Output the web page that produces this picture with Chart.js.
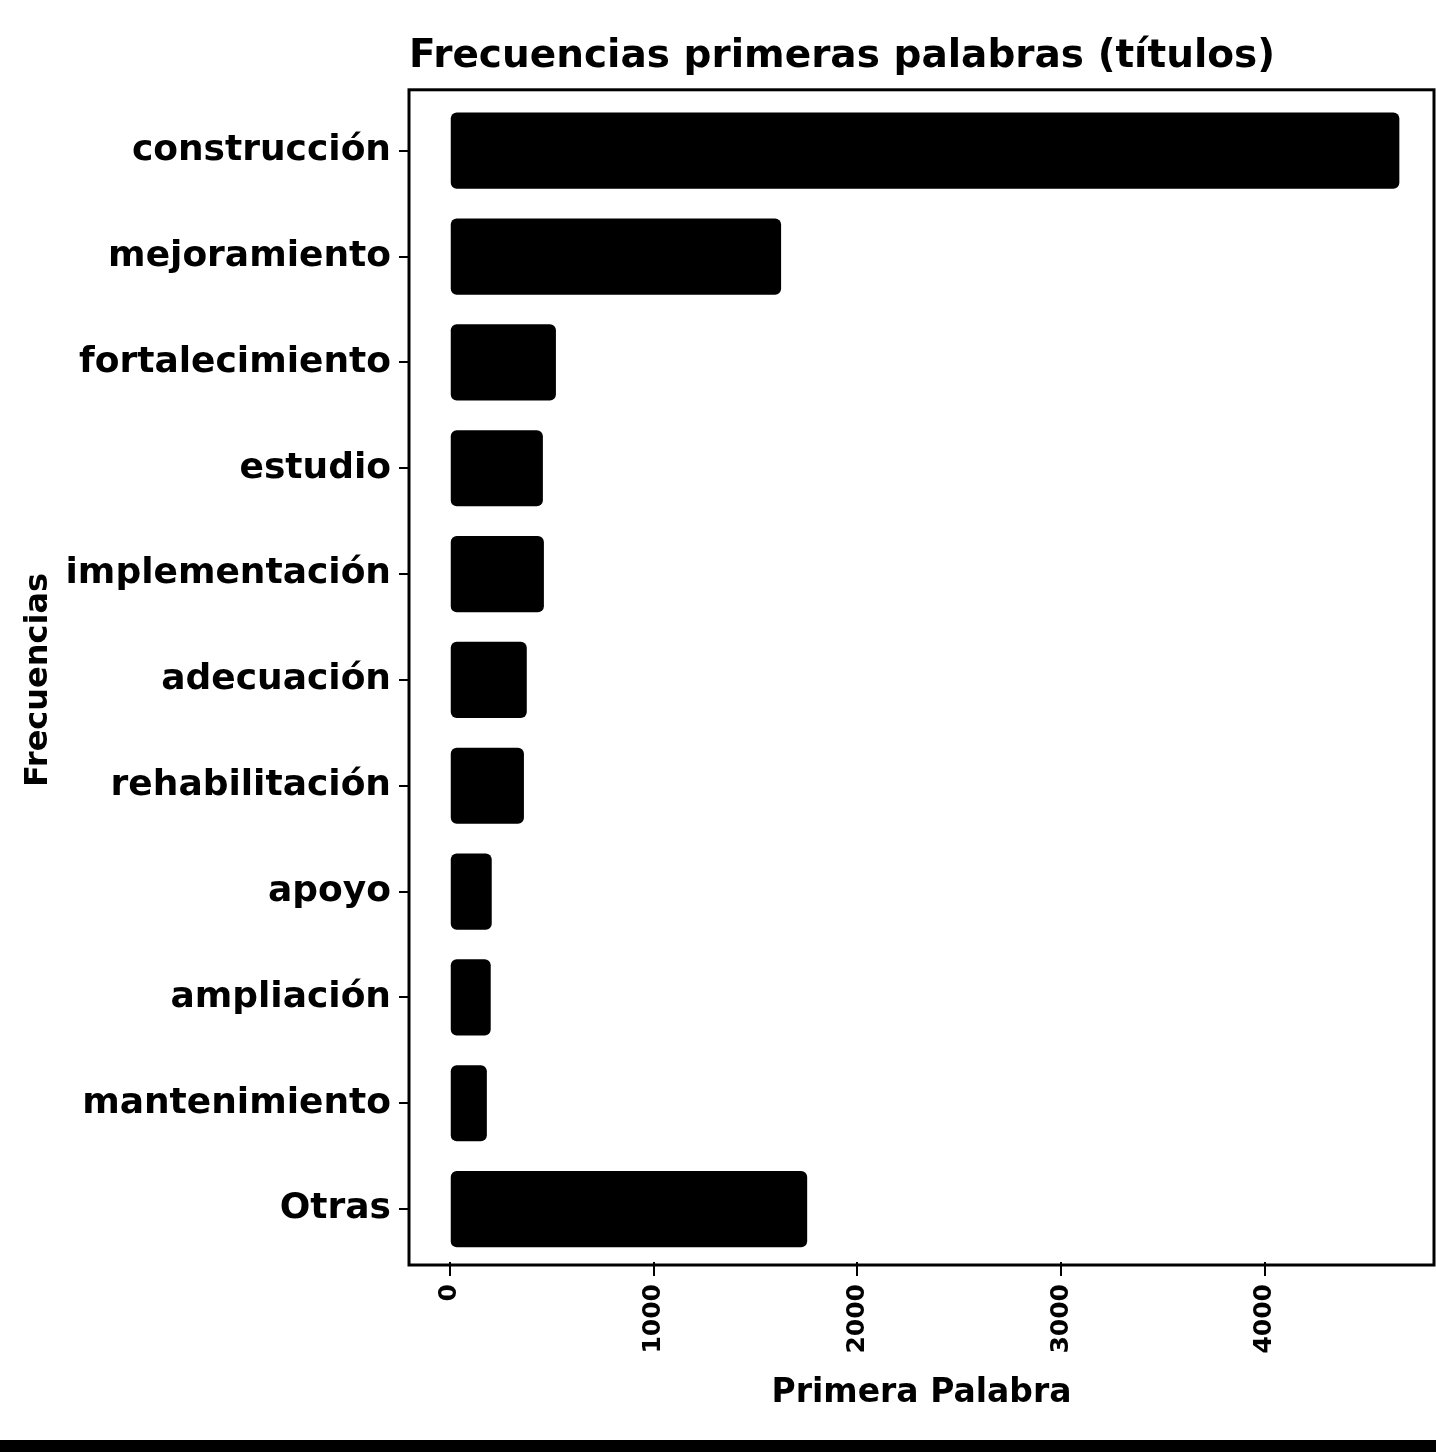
<!DOCTYPE html>
<html><head><meta charset="utf-8">
<script src="https://cdn.jsdelivr.net/npm/chart.js@4"></script>
<style>
html,body{margin:0;padding:0;background:#fff;}
#wrap{width:1436px;height:1440px;position:relative;}
#bar{width:1436px;height:12px;background:#000;}
</style></head><body>
<div id="wrap"><canvas id="c" width="1436" height="1440"></canvas></div>
<div id="bar"></div>
<script>
const categories = ["construcción","mejoramiento","fortalecimiento","estudio","implementación","adecuación","rehabilitación","apoyo","ampliación","mantenimiento","Otras"];
const frequencies = [4660,1626,521,457,462,378,364,206,201,182,1754];
const xTickValues = [0,1000,2000,3000,4000];
const xTickLabels = ["0","1000","2000","3000","4000"];
const titleText = "Frecuencias primeras palabras (títulos)";
const xTitle = "Primera Palabra";
const yTitle = "Frecuencias";

const FONT = "'DejaVu Sans', sans-serif";

const framePlugin = {
  id: 'frame',
  afterDatasetsDraw(chart) {
    const a = chart.chartArea, ctx = chart.ctx;
    ctx.save();
    ctx.strokeStyle = '#000';
    ctx.lineWidth = 3;
    ctx.strokeRect(a.left, a.top - 8, a.right - a.left, a.bottom - a.top + 11);
    ctx.restore();
  }
};

new Chart(document.getElementById('c'), {
  type: 'bar',
  data: {
    labels: categories,
    datasets: [{
      data: frequencies,
      backgroundColor: '#000',
      borderRadius: 6,
      borderSkipped: false,
      categoryPercentage: 1,
      barPercentage: 0.72
    }]
  },
  options: {
    indexAxis: 'y',
    responsive: false,
    animation: false,
    devicePixelRatio: 1,
    layout: { padding: { right: 2 } },
    plugins: {
      legend: { display: false },
      tooltip: { enabled: false },
      title: {
        display: true,
        text: titleText,
        align: 'start',
        fullSize: false,
        color: '#000',
        font: { family: FONT, size: 39, weight: 'bold' },
        padding: { top: 33, bottom: 18 }
      }
    },
    scales: {
      x: {
        type: 'linear',
        min: -200,
        max: 4830,
        afterBuildTicks(scale) { scale.ticks = xTickValues.map(v => ({ value: v })); },
        afterFit(scale) { scale.height = 178; },
        border: { display: false },
        grid: { drawOnChartArea: false, drawTicks: true, tickLength: 14, color: '#000', lineWidth: 2 },
        ticks: {
          autoSkip: false, minRotation: 90, maxRotation: 90, padding: 8, color: '#000',
          font: { family: FONT, size: 25, weight: 'bold' },
          callback(value) { const i = xTickValues.indexOf(value); return i >= 0 ? xTickLabels[i] : ''; }
        },
        title: {
          display: true, text: xTitle, color: '#000',
          font: { family: FONT, size: 33, weight: 'bold' },
          padding: { top: 0, bottom: 27 }
        }
      },
      y: {
        type: 'category',
        afterFit(scale) { scale.width = 409; },
        border: { display: false },
        grid: { offset: false, drawOnChartArea: false, drawTicks: true, tickLength: 10, color: '#000', lineWidth: 2 },
        ticks: {
          padding: 8, color: '#000', autoSkip: false,
          font: { family: FONT, size: 36, weight: 'bold' }
        },
        title: {
          display: true, text: yTitle, color: '#000',
          font: { family: FONT, size: 32, weight: 'bold' },
          padding: { top: 19, bottom: 0 }
        }
      }
    }
  },
  plugins: [framePlugin]
});
</script>
</body></html>
